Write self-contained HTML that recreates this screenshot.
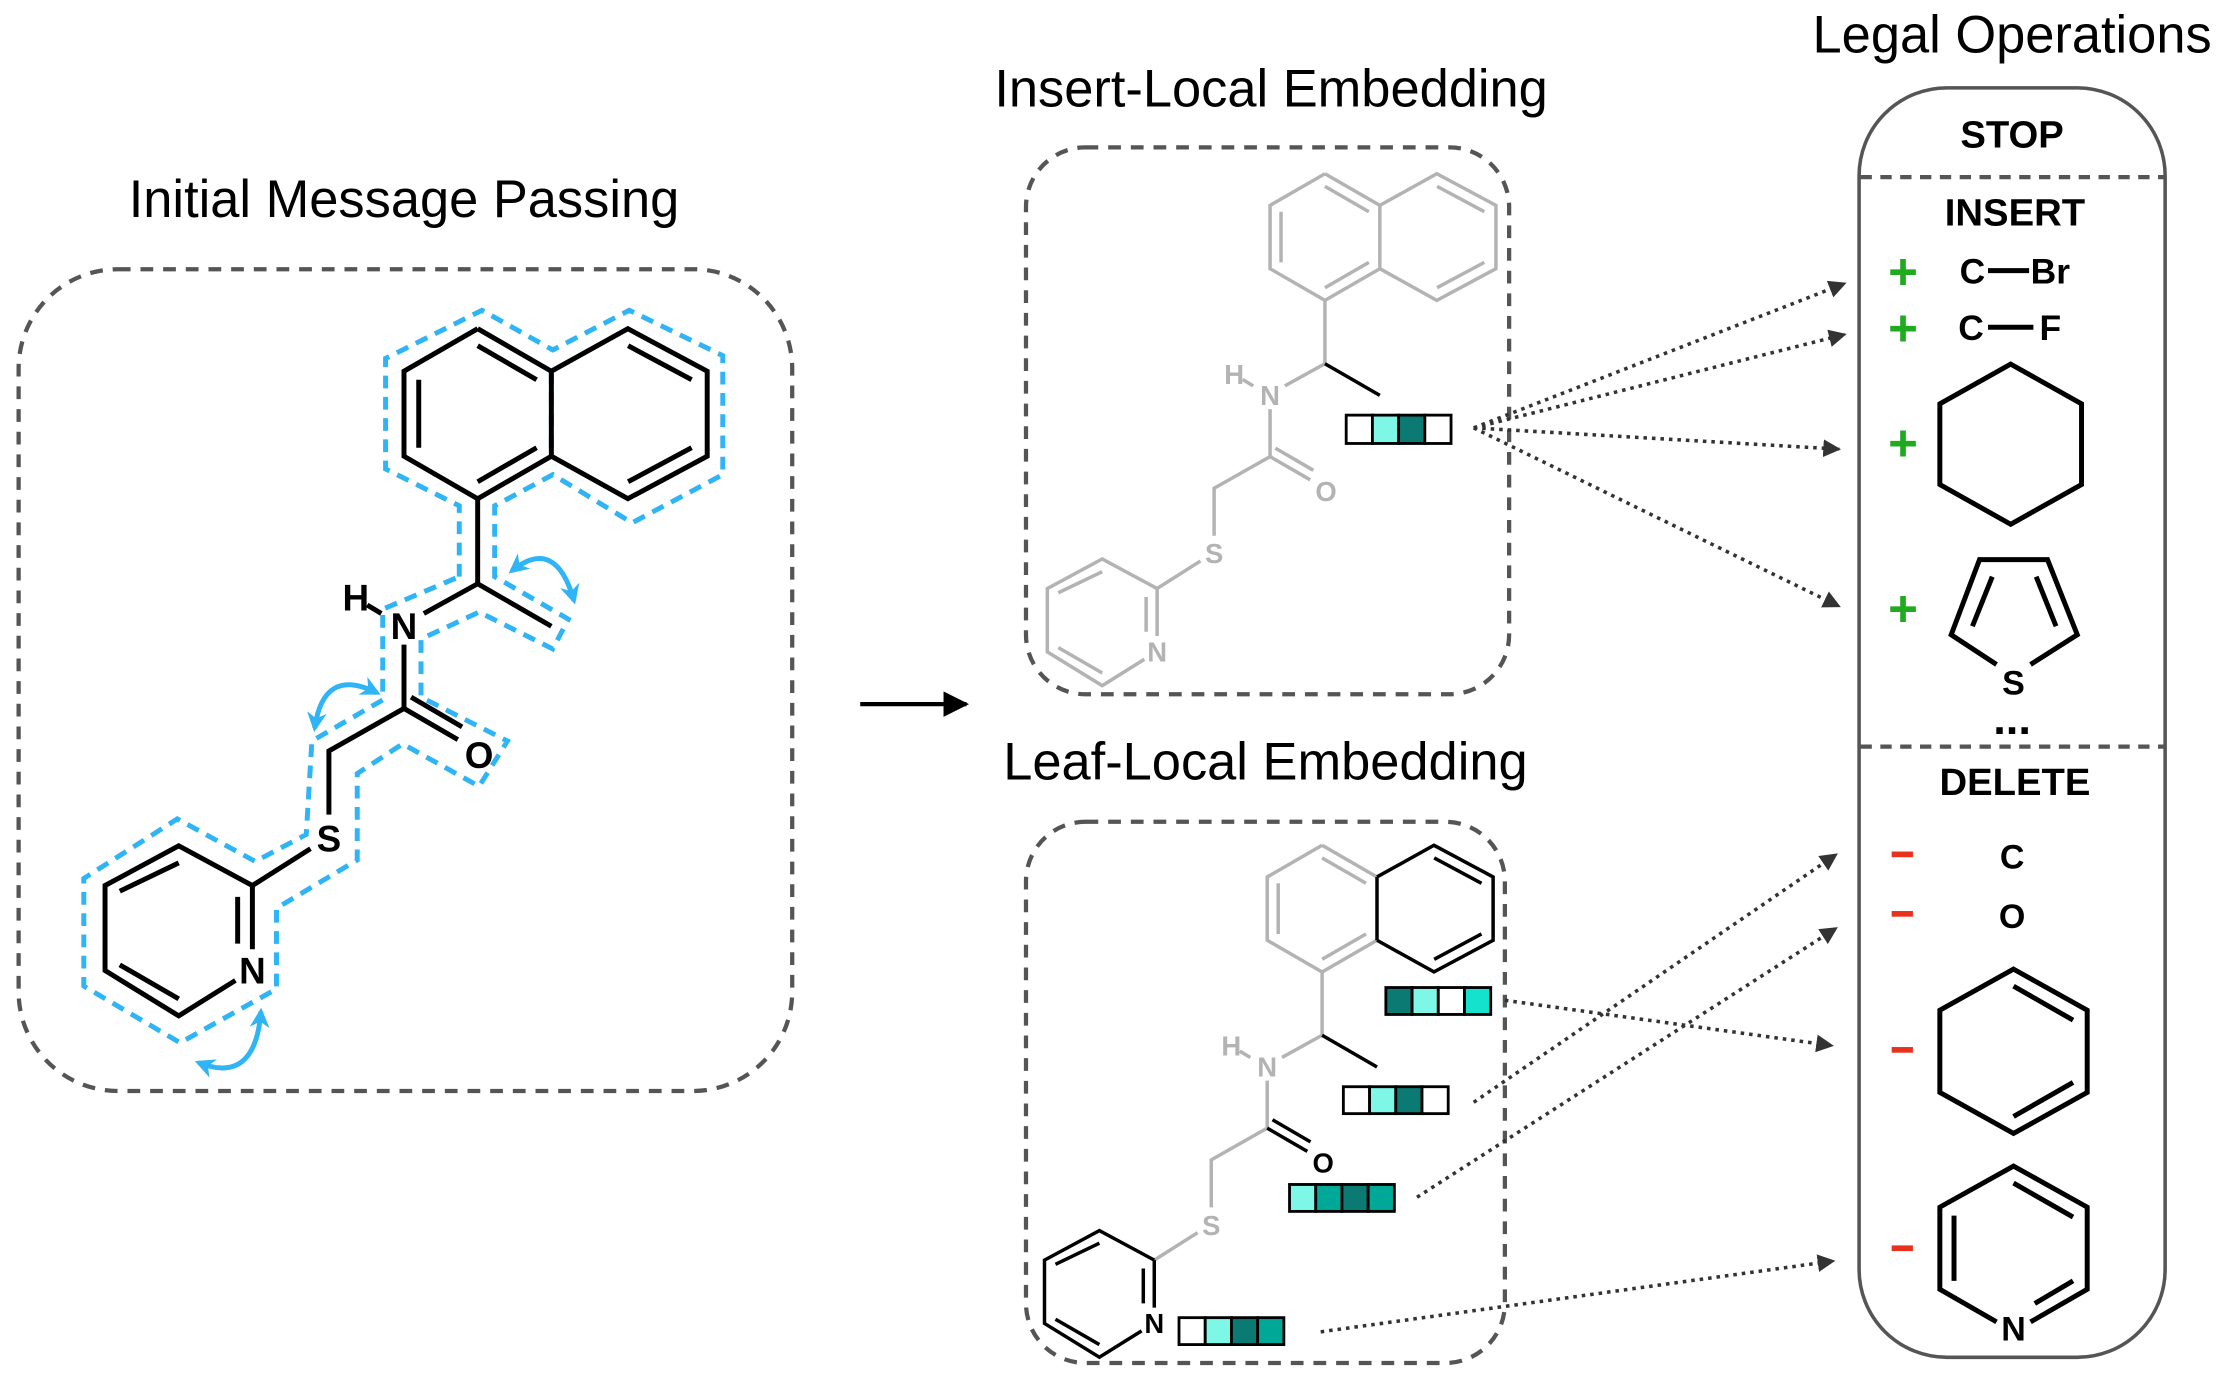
<!DOCTYPE html>
<html><head><meta charset="utf-8"><style>
html,body{margin:0;padding:0;background:#fff;}
svg{display:block;}
text{font-family:"Liberation Sans",sans-serif;}
</style></head><body>
<svg width="2222" height="1380" viewBox="0 0 1568 974" xmlns="http://www.w3.org/2000/svg">
<defs>
<marker id="ah" viewBox="0 0 10 10" refX="9" refY="5" markerWidth="5" markerHeight="5" orient="auto-start-reverse"><path d="M0,0 L10,5 L0,10 z" fill="#333"/></marker>
<marker id="bh" viewBox="0 0 10 10" refX="8" refY="5" markerWidth="4" markerHeight="4" orient="auto-start-reverse"><path d="M0,0 L10,5 L0,10 L3,5 z" fill="#2fb4f5"/></marker>
<marker id="kh" viewBox="0 0 10 10" refX="9" refY="5" markerWidth="6" markerHeight="6" orient="auto"><path d="M0,0 L10,5 L0,10 z" fill="#000"/></marker>
<g id="mol" fill="none">
<path d="M337,232 L285,262 L285,322 L337,352 L389,322 M389,262 L337,232 M337,244 L378.6,268 M295.4,268 L295.4,316 M337,340 L378.6,316" style="stroke:var(--A)"/>
<path d="M389,262 L389,322 M389,262 L443,232 L499,262 L499,322 L443,352 L389,322 M443.2,244 L488,268 M488,316 L443.2,340" style="stroke:var(--B)"/>
<path d="M337,352 L337,412 M337,412 L299,433 M259,427 L269,433 M285,455 L285,500 M285,500 L232,530 L232,575 M219,599 L178,625" style="stroke:var(--G)"/>
<path d="M337,412 L389,442" style="stroke:var(--M)"/>
<path d="M285,500 L323,522 M290,492 L326,513" style="stroke:var(--O)"/>
<path d="M178,625 L178,670 M166,692 L126,717 L74,685 L74,625 L126,597 L178,625 M167.6,633 L167.6,666 M126,705 L84.4,681 M84.4,629 L126,609" style="stroke:var(--P)"/>
<g stroke="none" font-size="26" text-anchor="middle" font-family="Liberation Sans, sans-serif" font-weight="bold">
<text x="251" y="431" style="fill:var(--G)">H</text>
<text x="285" y="451" style="fill:var(--G)">N</text>
<text x="232" y="601" style="fill:var(--G)">S</text>
<text x="338" y="542" style="fill:var(--O)">O</text>
<text x="178" y="694" style="fill:var(--P)">N</text>
</g>
</g>
</defs>

<text x="285" y="153" font-size="37" text-anchor="middle">Initial Message Passing</text>
<text x="897" y="75" font-size="37" text-anchor="middle">Insert-Local Embedding</text>
<text x="893" y="550" font-size="37" text-anchor="middle">Leaf-Local Embedding</text>
<text x="1420" y="37" font-size="37" text-anchor="middle">Legal Operations</text>

<rect x="13" y="190" width="546" height="580" rx="70" fill="none" stroke="#555" stroke-width="3" stroke-dasharray="9,7"/>
<path d="M324,407 L324,357 L272,331 L272,253 L340,219 L390,247 L444,219 L510,251 L510,335 L446,369 L390,335 L349,357 L349,407 L401,437 L390,458 L338,432 L297,451 L297,492 L358,523 L338,555 L284,525 L252,546 L252,607 L195,641 L195,698 L127,736 L59,696 L59,620 L125,578 L180,608 L216,589 L220,523 L270,494 L270,430 Z M389,262 L389,322" fill="none" stroke="#2fb4f5" stroke-width="3.5" stroke-dasharray="9,6"/>
<g style="--A:#000;--B:#000;--G:#000;--M:#000;--O:#000;--P:#000" stroke-width="3.5">
<use href="#mol"/>
</g>
<g fill="none" stroke="#2fb4f5" stroke-width="3.5">
<path d="M361,403 Q392,378 405,424" marker-start="url(#bh)" marker-end="url(#bh)"/>
<path d="M222,514 Q228,470 266,489" marker-start="url(#bh)" marker-end="url(#bh)"/>
<path d="M140,750 Q180,766 184,714" marker-start="url(#bh)" marker-end="url(#bh)"/>
</g>

<line x1="607" y1="497" x2="682" y2="497" stroke="#000" stroke-width="3" marker-end="url(#kh)"/>

<rect x="724" y="104" width="341" height="386" rx="42" fill="none" stroke="#555" stroke-width="3" stroke-dasharray="9,7"/>
<g transform="translate(935,212) scale(0.745) translate(-337,-352)" style="--A:#b3b3b3;--B:#b3b3b3;--G:#b3b3b3;--M:#000;--O:#b3b3b3;--P:#b3b3b3" stroke-width="3.3">
<use href="#mol"/>
</g>
<rect x="724" y="580" width="338" height="382" rx="42" fill="none" stroke="#555" stroke-width="3" stroke-dasharray="9,7"/>
<g transform="translate(-2,474) translate(935,212) scale(0.745) translate(-337,-352)" style="--A:#b3b3b3;--B:#000;--G:#b3b3b3;--M:#000;--O:#000;--P:#000" stroke-width="3.3">
<use href="#mol"/>
</g>

<g stroke="#000" stroke-width="2">
<rect x="950" y="293" width="18.5" height="20" fill="#fff"/><rect x="968.5" y="293" width="18.5" height="20" fill="#7ff7e6"/><rect x="987" y="293" width="18.5" height="20" fill="#0b7a72"/><rect x="1005.5" y="293" width="18.5" height="20" fill="#fff"/>
<rect x="978" y="697" width="18.5" height="19" fill="#0b7a72"/><rect x="996.5" y="697" width="18.5" height="19" fill="#7ff7e6"/><rect x="1015" y="697" width="18.5" height="19" fill="#fff"/><rect x="1033.5" y="697" width="18.5" height="19" fill="#14e2cc"/>
<rect x="948" y="767" width="18.5" height="19" fill="#fff"/><rect x="966.5" y="767" width="18.5" height="19" fill="#7ff7e6"/><rect x="985" y="767" width="18.5" height="19" fill="#0b7a72"/><rect x="1003.5" y="767" width="18.5" height="19" fill="#fff"/>
<rect x="910" y="836" width="18.5" height="19" fill="#7ff7e6"/><rect x="928.5" y="836" width="18.5" height="19" fill="#00a898"/><rect x="947" y="836" width="18.5" height="19" fill="#0b7a72"/><rect x="965.5" y="836" width="18.5" height="19" fill="#00a898"/>
<rect x="832" y="930" width="18.5" height="19" fill="#fff"/><rect x="850.5" y="930" width="18.5" height="19" fill="#7ff7e6"/><rect x="869" y="930" width="18.5" height="19" fill="#0b7a72"/><rect x="887.5" y="930" width="18.5" height="19" fill="#00a898"/>
</g>

<g stroke="#333" stroke-width="2.5" stroke-dasharray="2.5,3.5" fill="none" marker-end="url(#ah)">
<line x1="1040" y1="302" x2="1302" y2="200"/>
<line x1="1040" y1="302" x2="1302" y2="236"/>
<line x1="1040" y1="302" x2="1298" y2="317"/>
<line x1="1040" y1="302" x2="1298" y2="428"/>
<line x1="1062" y1="706" x2="1293" y2="738"/>
<line x1="1040" y1="778" x2="1296" y2="603"/>
<line x1="1000" y1="845" x2="1296" y2="655"/>
<line x1="932" y1="940" x2="1294" y2="890"/>
</g>

<rect x="1312" y="62" width="216" height="896" rx="62" fill="#fff" stroke="#555" stroke-width="2.5"/>
<line x1="1313" y1="125" x2="1527" y2="125" stroke="#555" stroke-width="3" stroke-dasharray="8,6"/>
<line x1="1313" y1="527" x2="1527" y2="527" stroke="#555" stroke-width="3" stroke-dasharray="8,6"/>
<g font-weight="bold" text-anchor="middle">
<text x="1420" y="104" font-size="27">STOP</text>
<text x="1422" y="159" font-size="27">INSERT</text>
<text x="1422" y="561" font-size="27">DELETE</text>
<text x="1392" y="200" font-size="25">C</text><text x="1447" y="200" font-size="25">Br</text>
<text x="1391" y="240" font-size="25">C</text><text x="1447" y="240" font-size="25">F</text>
<text x="1421" y="490" font-size="24">S</text>
<text x="1420" y="613" font-size="24">C</text>
<text x="1420" y="655" font-size="24">O</text>
<text x="1421" y="946" font-size="24">N</text>
<text x="1420" y="518" font-size="32">...</text>
</g>
<g fill="#1faa1f" font-weight="bold" font-size="36" text-anchor="middle">
<text x="1343" y="204">+</text><text x="1343" y="244">+</text><text x="1343" y="325">+</text><text x="1343" y="442">+</text>
</g>
<g fill="#e8321e">
<rect x="1335" y="601" width="15" height="4"/><rect x="1335" y="643" width="15" height="4"/><rect x="1335" y="739" width="15" height="4"/><rect x="1335" y="879" width="15" height="4"/>
</g>
<g fill="none" stroke="#000" stroke-width="3.5">
<path d="M1403,191 L1432,191 M1403,231 L1435,231"/>
<path d="M1419,257 L1469,285 L1469,342 L1419,370 L1369,342 L1369,285 Z"/>
<path d="M1433,469 L1466,448 L1445,395 L1397,395 L1377,448 L1409,469 M1406,407 L1392,442 M1437,407 L1451,442"/>
<path d="M1421,684 L1473,713 L1473,771 L1421,800 L1369,771 L1369,713 Z M1421,696 L1463,720 M1463,764 L1421,788"/>
<path d="M1433,933 L1473,910 L1473,852 L1421,823 L1369,852 L1369,910 L1409,933 M1421,835 L1463,859 M1379,858 L1379,904 M1463,904 L1436,920"/>
</g>
</svg>
</body></html>
